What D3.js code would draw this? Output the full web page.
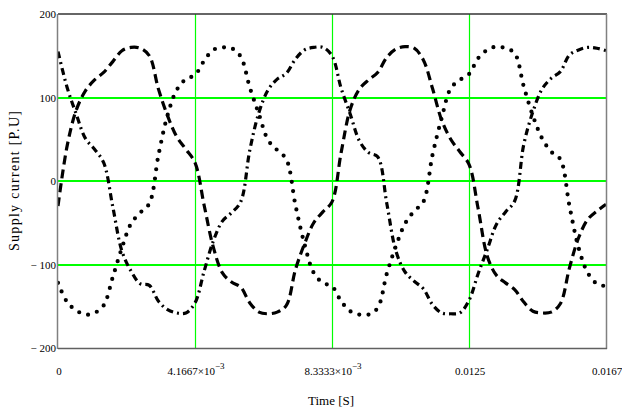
<!DOCTYPE html>
<html>
<head>
<meta charset="utf-8">
<script src="https://cdn.jsdelivr.net/npm/d3@7"></script>
<style>
  html, body { margin: 0; padding: 0; background: #fff; }
  svg { display: block; }
  text { font-family: "Liberation Serif", "Times New Roman", serif; fill: #000; }
</style>
</head>
<body>
<svg id="chart" width="622" height="413"></svg>
<script>
// ---- data ----
const sampleStep = 1 / 3600;          // seconds between samples
const timeMax = 1 / 60;               // 0.0167 s window
const yMin = -200, yMax = 200;

// phase currents [P.U], one value per sample (61 samples, 0 .. 0.0167 s)
const phaseDotted = [
  -122, -145, -155, -160, -158, -149, -115, -80, -51, -38,
  -27, 31, 79, 109, 122, 127, 144, 157, 160, 159,
  149, 112, 80, 49, 37, 26, -29, -76, -110, -122,
  -126, -144, -156, -160, -160, -152, -111, -78, -51, -36,
  -25, 31, 75, 111, 121, 128, 147, 157, 161, 159,
  153, 113, 78, 51, 35, 26, -30, -80, -110, -123,
  -126
];
const phaseDashed = [
  -30, 42, 85, 108, 121, 130, 143, 156, 160, 159,
  150, 110, 78, 53, 38, 22, -29, -79, -110, -121,
  -127, -146, -157, -159, -157, -149, -106, -75, -50, -37,
  -25, 34, 86, 110, 121, 130, 148, 158, 161, 159,
  145, 111, 73, 50, 35, 20, -33, -90, -113, -122,
  -130, -145, -156, -158, -157, -147, -104, -68, -46, -36,
  -28
];
const phaseDashDot = [
  155, 112, 80, 51, 38, 22, -31, -84, -108, -123,
  -125, -144, -154, -158, -158, -146, -108, -72, -48, -38,
  -25, 37, 82, 109, 122, 129, 146, 157, 160, 160,
  150, 111, 80, 48, 34, 29, -27, -84, -109, -120,
  -129, -148, -158, -159, -158, -143, -111, -82, -52, -37,
  -24, 44, 83, 110, 123, 131, 151, 157, 160, 159,
  156
];

const xTickValues = [0, 1 / 240, 1 / 120, 1 / 80, 1 / 60];
const xTickMain = ["0", "4.1667×10", "8.3333×10", "0.0125", "0.0167"];
const xTickSup = ["", "−3", "−3", "", ""];
const yTickValues = [200, 100, 0, -100, -200];
const yTickLabels = ["200", "100", "0", "− 100", "− 200"];
const yGridValues = [100, 0, -100];
const xGridValues = [1 / 240, 1 / 120, 1 / 80];

// ---- layout ----
const svg = d3.select("#chart");
const mLeft = 58, mRight = 606, mTop = 14, mBottom = 348;

const x = d3.scaleLinear().domain([0, timeMax]).range([mLeft, mRight]);
const y = d3.scaleLinear().domain([yMin, yMax]).range([mBottom, mTop]);

// grid
const grid = svg.append("g");
grid.selectAll("line.h").data(yGridValues).enter().append("line")
  .attr("class", "h")
  .attr("x1", mLeft).attr("x2", mRight)
  .attr("y1", d => Math.round(y(d))).attr("y2", d => Math.round(y(d)))
  .attr("stroke", "#00ff00").attr("stroke-width", 2);
grid.selectAll("line.v").data(xGridValues).enter().append("line")
  .attr("class", "v")
  .attr("y1", mTop).attr("y2", mBottom)
  .attr("x1", d => Math.round(x(d)) + 0.5).attr("x2", d => Math.round(x(d)) + 0.5)
  .attr("stroke", "#00ff00").attr("stroke-width", 1.2);

// clip
svg.append("clipPath").attr("id", "clip").append("rect")
  .attr("x", mLeft).attr("y", mTop).attr("width", mRight - mLeft).attr("height", mBottom - mTop);

const times = phaseDotted.map((_, i) => i * sampleStep);
const line = d3.line()
  .x((d, i) => x(times[i]))
  .y(d => y(d))
  .curve(d3.curveCatmullRom);

const plot = svg.append("g").attr("clip-path", "url(#clip)");
plot.append("path").datum(phaseDotted)
  .attr("d", line).attr("fill", "none").attr("stroke", "#000")
  .attr("stroke-width", 4.2).attr("stroke-linecap", "round")
  .attr("stroke-dasharray", "0 9.3");
plot.append("path").datum(phaseDashed)
  .attr("d", line).attr("fill", "none").attr("stroke", "#000")
  .attr("stroke-width", 3.2).attr("stroke-linecap", "butt")
  .attr("stroke-dasharray", "9 5");
plot.append("path").datum(phaseDashDot)
  .attr("d", line).attr("fill", "none").attr("stroke", "#000")
  .attr("stroke-width", 3.2).attr("stroke-linecap", "butt")
  .attr("stroke-dasharray", "7 4 2 4");

// frame
svg.append("line").attr("x1", mLeft).attr("x2", mRight + 1).attr("y1", mTop).attr("y2", mTop)
  .attr("stroke", "#333").attr("stroke-width", 1.5);
svg.append("line").attr("x1", mLeft - 0.5).attr("x2", mLeft - 0.5).attr("y1", mTop).attr("y2", mBottom + 1)
  .attr("stroke", "#808080").attr("stroke-width", 1.5);
svg.append("line").attr("x1", mRight + 0.5).attr("x2", mRight + 0.5).attr("y1", mTop).attr("y2", mBottom + 1)
  .attr("stroke", "#808080").attr("stroke-width", 1.5);
svg.append("line").attr("x1", mLeft).attr("x2", mRight + 1).attr("y1", mBottom + 0.5).attr("y2", mBottom + 0.5)
  .attr("stroke", "#606060").attr("stroke-width", 1.5);

// y tick labels
svg.selectAll("text.yt").data(yTickValues).enter().append("text")
  .attr("class", "yt")
  .attr("x", mLeft - 2).attr("y", d => y(d) + 4)
  .attr("text-anchor", "end").attr("font-size", 11)
  .text((d, i) => yTickLabels[i]);

// x tick labels
const xt = svg.selectAll("text.xt").data(xTickValues).enter().append("text")
  .attr("class", "xt")
  .attr("x", d => x(d) + 1).attr("y", 375)
  .attr("text-anchor", "middle").attr("font-size", 11);
xt.append("tspan").text((d, i) => xTickMain[i]);
xt.append("tspan").attr("dy", -6).attr("font-size", 9).text((d, i) => xTickSup[i]);

// axis titles
svg.append("text").attr("x", (mLeft + mRight) / 2 - 1).attr("y", 405)
  .attr("text-anchor", "middle").attr("font-size", 13).text("Time [S]");
svg.append("text")
  .attr("transform", `translate(19, ${(mTop + mBottom) / 2}) rotate(-90)`)
  .attr("text-anchor", "middle").attr("font-size", 14)
  .attr("textLength", 140).attr("lengthAdjust", "spacing")
  .text("Supply current [P.U]");
</script>
</body>
</html>
